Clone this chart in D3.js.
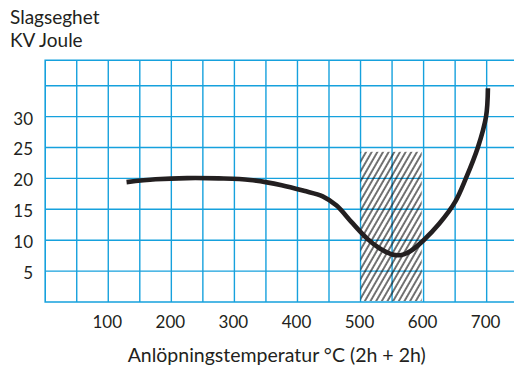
<!DOCTYPE html>
<html>
<head>
<meta charset="utf-8">
<script src="https://cdn.jsdelivr.net/npm/d3@7"></script>
<style>
body{margin:0;background:#fff;}
text{font-family:Lato,"Open Sans",sans-serif;fill:#231f20;}
</style>
</head>
<body>
<script>
// chart data
var xTicks = [100, 200, 300, 400, 500, 600, 700];
var yTicks = [5, 10, 15, 20, 25, 30];
var xGrid = [50, 100, 150, 200, 250, 300, 350, 400, 450, 500, 550, 600, 650, 700, 750];
var yGrid = [5, 10, 15, 20, 25, 30, 35];
var curveTemp = [129, 175, 225, 275, 325, 375, 410, 440, 462, 485, 510, 530, 550, 565, 580, 600, 625, 650, 667, 686, 699, 702];
var curveJoule = [19.4, 19.85, 20.05, 20.0, 19.75, 18.9, 18.0, 17.1, 15.6, 13.0, 10.3, 8.7, 7.7, 7.6, 8.3, 10.0, 12.7, 16.2, 20.0, 25.0, 30.0, 34.6];
var hatchRange = [500, 597];
var hatchTop = 24.3;
var yTitle = ["Slagseghet", "KV Joule"];
var xTitle = "Anlöpningstemperatur °C (2h + 2h)";

var W = 514, H = 367, blue = "#16a1dd";

var svg = d3.select("body").append("svg")
	.attr("width", W).attr("height", H);

var x = d3.scaleLinear().domain([0, 750]).range([45.2, 518.2]);
var y = d3.scaleLinear().domain([0, 30]).range([302, 116.6]);
var topY = 60.3;

/* hatch pattern */
var pat = svg.append("defs").append("pattern")
	.attr("id", "hatch").attr("patternUnits", "userSpaceOnUse")
	.attr("width", 4.9).attr("height", 10)
	.attr("patternTransform", "rotate(30)");
pat.append("line")
	.attr("x1", 1).attr("x2", 1).attr("y1", 0).attr("y2", 10)
	.attr("stroke", "#000").attr("stroke-width", 1.1);

/* grid */
var grid = svg.append("g");
grid.selectAll(".vx").data(xGrid).enter().append("line")
	.attr("x1", d => x(d)).attr("x2", d => x(d))
	.attr("y1", topY).attr("y2", y(0))
	.attr("stroke", blue).attr("stroke-width", 1.4);
grid.selectAll(".hy").data(yGrid).enter().append("line")
	.attr("x1", x(0)).attr("x2", W)
	.attr("y1", d => y(d)).attr("y2", d => y(d))
	.attr("stroke", blue).attr("stroke-width", 1.4);
// frame: left, top and bottom
grid.append("path")
	.attr("d", "M" + W + "," + topY + "H" + x(0) + "V" + y(0) + "H" + W)
	.attr("fill", "none").attr("stroke", blue).attr("stroke-width", 1.6);

/* hatched area */
svg.append("rect")
	.attr("x", x(hatchRange[0])).attr("y", y(hatchTop))
	.attr("width", x(hatchRange[1]) - x(hatchRange[0]))
	.attr("height", y(0) - y(hatchTop) - 1)
	.attr("fill", "url(#hatch)");

/* curve */
var pts = curveTemp.map((t, i) => [t, curveJoule[i]]);
svg.append("path")
	.datum(pts)
	.attr("d", d3.line().x(d => x(d[0])).y(d => y(d[1])).curve(d3.curveCatmullRom.alpha(0.5)))
	.attr("fill", "none").attr("stroke", "#231f20").attr("stroke-width", 4.6)
	.attr("stroke-linecap", "butt");

/* axes labels */
var xAxis = svg.append("g")
	.attr("transform", "translate(-1.5," + y(0) + ")")
	.call(d3.axisBottom(x).tickValues(xTicks).tickSize(0).tickPadding(14).tickFormat(d3.format("d")));
xAxis.select(".domain").remove();
xAxis.selectAll("text").style("font-size", "17px").attr("fill", "#231f20");

var yAxis = svg.append("g")
	.attr("transform", "translate(33,2)")
	.call(d3.axisLeft(y).tickValues(yTicks).tickSize(0).tickPadding(0).tickFormat(d3.format("d")));
yAxis.select(".domain").remove();
yAxis.selectAll("text").style("font-size", "17px").attr("fill", "#231f20");

/* titles */
svg.selectAll(".yt").data(yTitle).enter().append("text")
	.attr("x", 10).attr("y", (d, i) => 23.5 + i * 23)
	.style("font-size", "19px")
	.text(d => d);

svg.append("text")
	.attr("x", 276.7).attr("y", 362)
	.attr("text-anchor", "middle")
	.style("font-size", "19.5px")
	.text(xTitle);
</script>
</body>
</html>
